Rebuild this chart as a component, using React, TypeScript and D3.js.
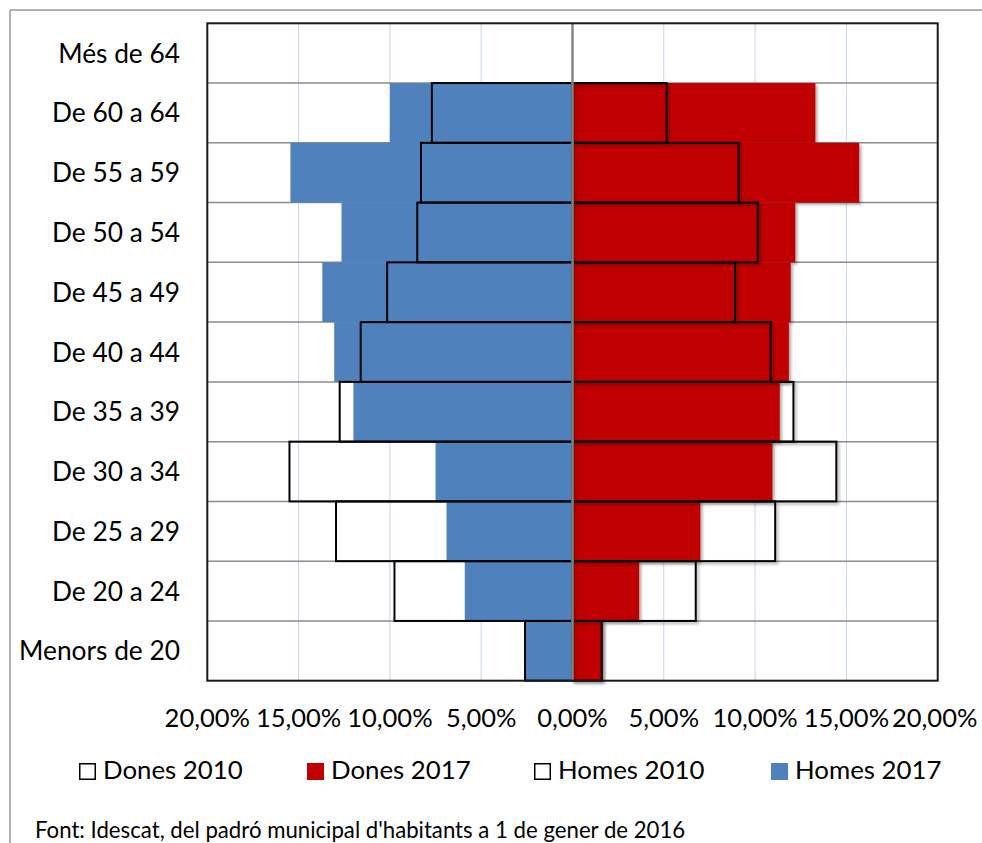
import React from 'react';
import * as d3 from 'd3';

const categories = ['Més de 64', 'De 60 a 64', 'De 55 a 59', 'De 50 a 54', 'De 45 a 49', 'De 40 a 44', 'De 35 a 39', 'De 30 a 34', 'De 25 a 29', 'De 20 a 24', 'Menors de 20'];
const homes2017 = [0, 10.0, 15.45, 12.65, 13.7, 13.05, 12.0, 7.5, 6.9, 5.9, 2.6];
const homes2010 = [0, 7.7, 8.3, 8.5, 10.15, 11.6, 12.75, 15.5, 12.95, 9.75, 2.6];
const dones2010 = [0, 5.15, 9.1, 10.15, 8.9, 10.85, 12.1, 14.45, 11.1, 6.75, 1.6];
const dones2017 = [0, 13.3, 15.7, 12.2, 11.95, 11.85, 11.35, 10.95, 7.0, 3.65, 1.65];
const tickValues = [-20, -15, -10, -5, 0, 5, 10, 15, 20];
const legendItems = [
  { label: 'Dones 2010', fill: '#ffffff', stroke: '#000000' },
  { label: 'Dones 2017', fill: '#c00000', stroke: 'none' },
  { label: 'Homes 2010', fill: '#ffffff', stroke: '#000000' },
  { label: 'Homes 2017', fill: '#4f81bd', stroke: 'none' },
];
const legendX = [79, 307, 534, 771];
const sourceText = "Font: Idescat, del padró municipal d'habitants a 1 de gener de 2016";

const FONT = 'Lato, "Open Sans", sans-serif';

export default function App() {
  const x = d3.scaleLinear().domain([-20, 20]).range([207.3, 937.7]);
  const y = d3.scaleBand<string>().domain(categories).range([23.3, 680.7]).padding(0);
  const bw = y.bandwidth();
  const locale = d3.formatLocale({ decimal: ',', thousands: '.', grouping: [3], currency: ['', '€'] });
  const fmt = locale.format('.2f');
  const x0 = x(0);

  return (
    <svg width={982} height={843} style={{ position: 'absolute', left: 0, top: 0, background: '#fff' }}>
      <defs>
        <filter id="shadow" x="-10%" y="-10%" width="130%" height="140%">
          <feDropShadow dx="2" dy="2" stdDeviation="1.5" floodColor="#000" floodOpacity="0.35" />
        </filter>
      </defs>
      <rect x={0} y={0} width={982} height={843} fill="#fff" />
      {/* chart area frame */}
      <line x1={10} y1={10} x2={982} y2={10} stroke="#999" strokeWidth={1.5} />
      <line x1={10} y1={10} x2={10} y2={843} stroke="#999" strokeWidth={1.5} />

      {/* vertical gridlines */}
      {tickValues.filter(t => t !== 0 && Math.abs(t) !== 20).map(t => (
        <line key={'g' + t} x1={x(t)} x2={x(t)} y1={y.range()[0]} y2={y.range()[1]} stroke="#c5d3ea" strokeWidth={1} />
      ))}
      {/* horizontal row lines */}
      {categories.slice(1).map(c => (
        <line key={'h' + c} x1={x(-20)} x2={x(20)} y1={y(c)!} y2={y(c)!} stroke="#8c8c8c" strokeWidth={1.5} />
      ))}

      {/* 2017 bars */}
      {categories.map((c, i) => homes2017[i] > 0 && (
        <rect key={'h17' + c} x={x(-homes2017[i])} y={y(c)!} width={x0 - x(-homes2017[i])} height={bw} fill="#4f81bd" />
      ))}
      <g filter="url(#shadow)">
        {categories.map((c, i) => dones2017[i] > 0 && (
          <rect key={'d17' + c} x={x0} y={y(c)!} width={x(dones2017[i]) - x0} height={bw} fill="#c00000" />
        ))}
      </g>

      {/* 2010 outlines */}
      {categories.map((c, i) => homes2010[i] > 0 && (
        <rect key={'h10' + c} x={x(-homes2010[i])} y={y(c)!} width={x0 - x(-homes2010[i])} height={bw} fill="none" stroke="#000" strokeWidth={2} />
      ))}
      <g filter="url(#shadow)">
        {categories.map((c, i) => dones2010[i] > 0 && (
          <rect key={'d10' + c} x={x0} y={y(c)!} width={x(dones2010[i]) - x0} height={bw} fill="none" stroke="#000" strokeWidth={2} />
        ))}
      </g>

      {/* center axis */}
      <line x1={x0} x2={x0} y1={y.range()[0]} y2={y.range()[1]} stroke="#868686" strokeWidth={2.5} />

      {/* plot border */}
      <rect x={x(-20)} y={y.range()[0]} width={x(20) - x(-20)} height={y.range()[1] - y.range()[0]} fill="none" stroke="#1a1a1a" strokeWidth={2} />

      {/* category labels */}
      {categories.map(c => (
        <text key={'l' + c} x={180} y={y(c)! + bw / 2 + 9.5} textAnchor="end" fontFamily={FONT} fontSize={26.3} fill="#000">{c}</text>
      ))}

      {/* tick labels */}
      {tickValues.map(t => (
        <text key={'t' + t} x={x(t) + (t === 20 ? -3 : 0)} y={727} textAnchor="middle" fontFamily={FONT} fontSize={25.5} fill="#000">{fmt(Math.abs(t)) + '%'}</text>
      ))}

      {/* legend */}
      {legendItems.map((it, i) => (
        <g key={'lg' + i}>
          <rect x={legendX[i] + (it.stroke !== 'none' ? 0.75 : 0)} y={763 + (it.stroke !== 'none' ? 0.75 : 0)} width={it.stroke !== 'none' ? 15.5 : 17} height={it.stroke !== 'none' ? 15.5 : 17} fill={it.fill} stroke={it.stroke} strokeWidth={1.5} />
          <text x={legendX[i] + 24} y={779} fontFamily={FONT} fontSize={25.8} fill="#000">{it.label}</text>
        </g>
      ))}

      {/* source */}
      <text x={35} y={838} fontFamily={FONT} fontSize={22.2} fill="#000">{sourceText}</text>
    </svg>
  );
}
